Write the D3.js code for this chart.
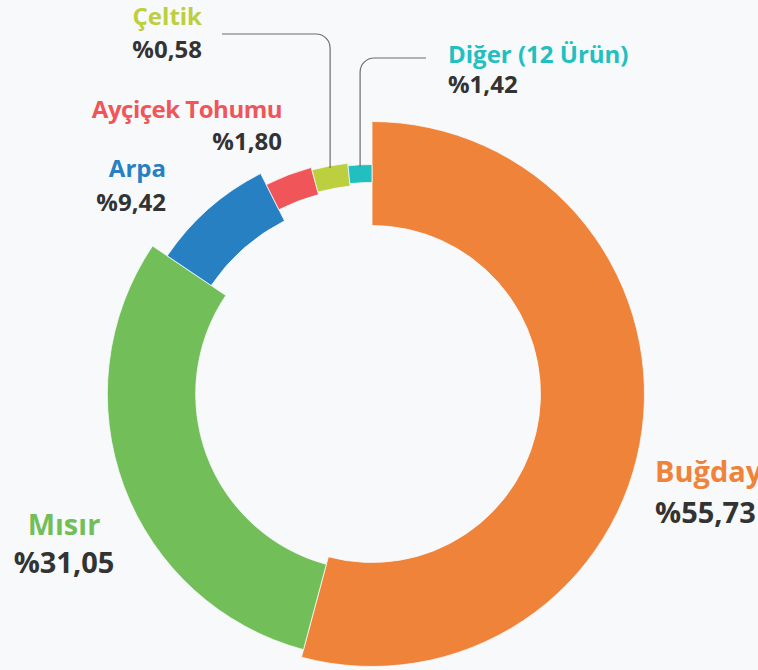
<!DOCTYPE html>
<html>
<head>
<meta charset="utf-8">
<script src="https://cdn.jsdelivr.net/npm/d3@7"></script>
<style>
    body { margin:0; background:#f8f9fb; }
    svg { display:block; font-family:"Open Sans", sans-serif; }
</style>
</head>
<body>
<div class="canvas"></div>
<script>
// chart data
const categories = ['Buğday', 'Mısır', 'Arpa', 'Ayçiçek Tohumu', 'Çeltik', 'Diğer (12 Ürün)'];
const shares = [55.73, 31.05, 9.42, 1.80, 0.58, 1.42];
// angle each slice takes in the picture (degrees, not proportional to shares)
const arcDegrees = [195, 109, 29.2, 11.8, 9.0, 6.0];
// relative ring weight of each slice (largest = 100)
const ringWeight = [100, 85, 51, 27, 22, 17.3];

const colours = ['#f0833a', '#72bf5a', '#2680c2', '#f05559', '#bccf3e', '#22bfc0'];

const dim = { width:758, height:670 };
const cent = { x:372, y:394 };
const midRadius = 220.5;

const data = categories.map((name, i) => ({
    name, share: shares[i], deg: arcDegrees[i], weight: ringWeight[i]
}));

const colour = d3.scaleOrdinal()
    .domain(categories)
    .range(colours);

const bandWidth = d3.scaleLinear()
    .domain([0, 100])
    .range([0, 104]);

const locale = d3.formatLocale({ decimal:',', thousands:'.', grouping:[3], currency:['', '₺'] });
const fmt = locale.format('.2f');

const svg = d3.select('.canvas')
    .append('svg')
    .attr('width', dim.width)
    .attr('height', dim.height);

const graph = svg.append('g')
    .attr('transform', `translate(${cent.x},${cent.y})`);

const pie = d3.pie()
    .sort(null)
    .value(d => d.deg);

const arcs = pie(data);

const arcPath = d => d3.arc()
    .innerRadius(midRadius - bandWidth(d.data.weight) / 2)
    .outerRadius(midRadius + bandWidth(d.data.weight) / 2)(d);

graph.selectAll('path.arc')
    .data(arcs)
    .enter()
    .append('path')
    .attr('class', 'arc')
    .attr('d', arcPath)
    .attr('fill', d => colour(d.data.name))
    .attr('stroke', '#f8f9fb')
    .attr('stroke-width', 0.8);

// leader lines for the two thin slices at the top
const leaders = [
    { name:'Çeltik', yH:34, xEnd:222, dir:-1 },
    { name:'Diğer (12 Ürün)', yH:58, xEnd:426, dir:1 }
];
const rc = 14;

svg.selectAll('path.leader')
    .data(leaders)
    .enter()
    .append('path')
    .attr('class', 'leader')
    .attr('fill', 'none')
    .attr('stroke', '#6d6d6d')
    .attr('stroke-width', 1.2)
    .attr('d', l => {
        const a = arcs.find(d => d.data.name === l.name);
        const mid = (a.startAngle + a.endAngle) / 2;
        const r = midRadius + bandWidth(a.data.weight) / 2 - 2;
        const x0 = cent.x + r * Math.sin(mid);
        const y0 = cent.y - r * Math.cos(mid);
        const sweep = l.dir > 0 ? 1 : 0;
        return `M${x0},${y0} V${l.yH + rc} A${rc},${rc} 0 0 ${sweep} ${x0 + l.dir * rc},${l.yH} H${l.xEnd}`;
    });

// labels
const labelPos = [
    { name:'Buğday', x:655, y1:482, y2:523, anchor:'start', size:29 },
    { name:'Mısır', x:64, y1:535, y2:573, anchor:'middle', size:29 },
    { name:'Arpa', x:166, y1:177, y2:211, anchor:'end', size:24 },
    { name:'Ayçiçek Tohumu', x:282, y1:118, y2:150, anchor:'end', size:24, tight:-0.5 },
    { name:'Çeltik', x:202, y1:25, y2:58, anchor:'end', size:24 },
    { name:'Diğer (12 Ürün)', x:448, y1:63, y2:93, anchor:'start', size:24 }
];

const labels = svg.selectAll('g.label')
    .data(labelPos)
    .enter()
    .append('g')
    .attr('class', 'label')
    .attr('text-anchor', d => d.anchor)
    .attr('font-weight', 'bold');

labels.append('text')
    .attr('x', d => d.x)
    .attr('y', d => d.y1)
    .attr('font-size', d => d.size)
    .attr('letter-spacing', d => d.tight || 0)
    .attr('fill', d => colour(d.name))
    .text(d => d.name);

labels.append('text')
    .attr('x', d => d.x)
    .attr('y', d => d.y2)
    .attr('font-size', d => d.size)
    .attr('fill', '#333')
    .text(d => '%' + fmt(data.find(item => item.name === d.name).share));
</script>
</body>
</html>
